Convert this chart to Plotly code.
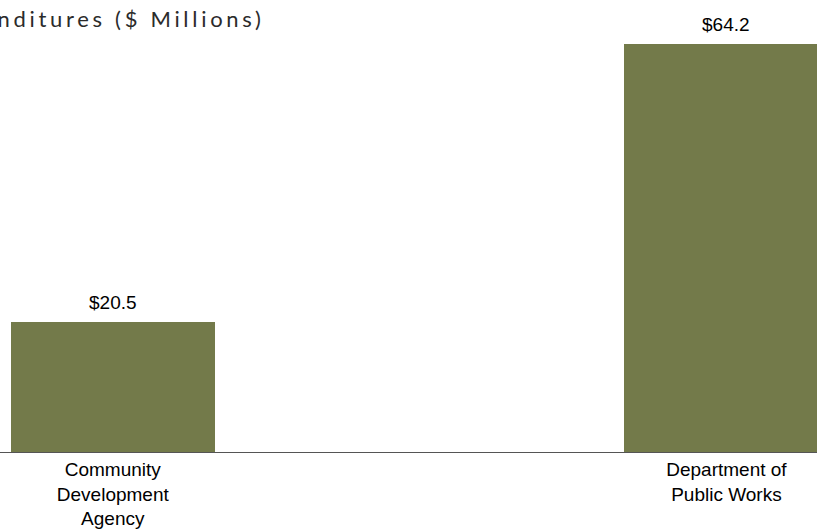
import plotly.graph_objects as go

categories = ["Community<br>Development<br>Agency", "Department of<br>Public Works"]
values = [20.5, 64.2]
value_labels = ["$20.5", "$64.2"]
title_text = "Expenditures ($ Millions)"

bar_color = "#737A4A"

fig = go.Figure()
fig.add_trace(go.Bar(
    x=[0, 1], y=values, width=0.333,
    marker=dict(color=bar_color, line=dict(width=0)),
    hoverinfo="skip",
))

for i, (v, lab) in enumerate(zip(values, value_labels)):
    fig.add_annotation(x=i, y=v, text=lab, showarrow=False,
                       xref="x", yref="y", yanchor="bottom", yshift=7,
                       font=dict(family="Liberation Sans, Arial", size=19, color="#000000"))

fig.add_annotation(xref="paper", yref="paper", x=267/817, y=1, xanchor="right", yanchor="top",
                   yshift=-3,
                   text='<span style="letter-spacing:3.7px">' + title_text + '</span>',
                   showarrow=False,
                   font=dict(family="Lato", size=22, color="#2b2b2b"))

fig.update_layout(
    width=817, height=531,
    margin=dict(l=0, r=0, t=0, b=79),
    paper_bgcolor="white", plot_bgcolor="white",
    showlegend=False,
    bargap=0,
    xaxis=dict(range=[-0.1838, 1.1476], tickmode="array", tickvals=[0, 1], ticktext=categories,
               showgrid=False, zeroline=False, showline=True, linecolor="#555555", linewidth=1.3,
               ticks="", tickfont=dict(family="Liberation Sans, Arial", size=19, color="#000000"),
               fixedrange=True),
    yaxis=dict(range=[0, 71.1], visible=False, showgrid=False, zeroline=False, fixedrange=True),
)

fig.write_html("out.html", config={"displayModeBar": False},
               post_script="document.body.style.margin='0';document.body.style.overflow='hidden';")
